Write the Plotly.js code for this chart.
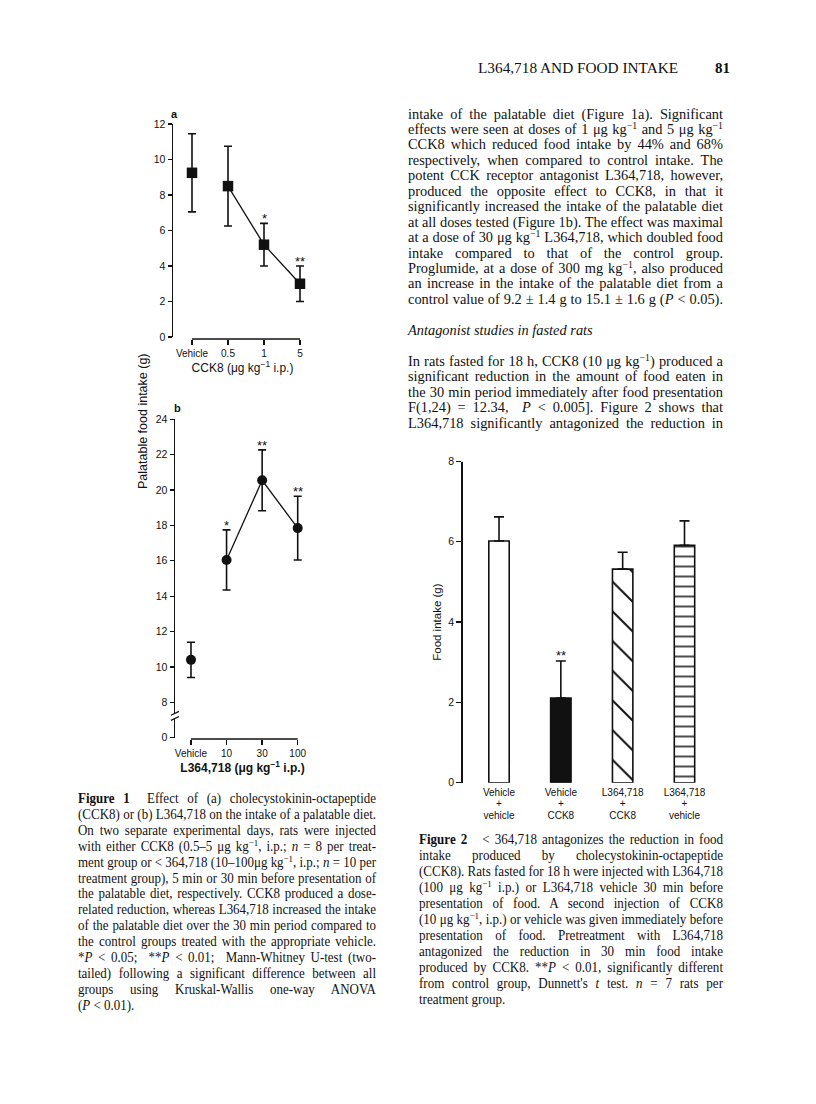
<!DOCTYPE html>
<html>
<head>
<meta charset="utf-8">
<script src="https://cdn.plot.ly/plotly-3.0.1.min.js"></script>
<style>
  html, body { margin: 0; padding: 0; background: #fff; }
  #page { position: relative; width: 816px; height: 1104px; overflow: hidden; background: #fff; }
  #plot { position: absolute; left: 0; top: 0; width: 816px; height: 1104px; }
  .blk { position: absolute; font-family: "Liberation Serif", "Times New Roman", serif; color: #111; transform-origin: 0 0; }
  .ln { white-space: nowrap; text-align: justify; text-align-last: justify; overflow: visible; }
  .ln.left { text-align-last: left; }
  sup { font-size: 68%; line-height: 0; vertical-align: 0.5em; }
  #meas { position: absolute; left: -5000px; top: 0; white-space: nowrap; font-family: "Liberation Serif", "Times New Roman", serif; }
</style>
</head>
<body>
<div id="page">
  <div id="plot"></div>
</div>
<span id="meas"></span>
<script>
// ---------------- data ----------------
const cck8Doses  = ['Vehicle', '0.5', '1', '5'];
const cck8Intake = [9.25, 8.5, 5.2, 3.0];
const cck8Sem    = [2.2, 2.25, 1.2, 1.0];
const cck8Sig    = ['', '', '*', '**'];

const l364Doses  = ['Vehicle', '10', '30', '100'];
const l364Intake = [10.4, 16.05, 20.55, 17.85];
const l364Sem    = [1.0, 1.7, 1.72, 1.8];
const l364Sig    = ['', '*', '**', '**'];

const fig2Pre    = ['Vehicle', 'Vehicle', 'L364,718', 'L364,718'];
const fig2Post   = ['vehicle', 'CCK8', 'CCK8', 'vehicle'];
const fig2Intake = [6.02, 2.11, 5.32, 5.91];
const fig2Sem    = [0.6, 0.92, 0.42, 0.61];
const fig2Sig    = ['', '**', '', ''];
const fig2Fill   = ['#ffffff', '#111111', '#ffffff', '#ffffff'];
const fig2Hatch  = ['', '', '\\', '-'];

const yTicksA  = [0, 2, 4, 6, 8, 10, 12];
const yTicksB  = [8, 10, 12, 14, 16, 18, 20, 22, 24];
const yTicksF2 = [0, 2, 4, 6, 8];

// ---------------- page geometry helpers ----------------
const W = 816, H = 1104;
const px = v => v / W;
const py = v => 1 - v / H;
const INK = '#111';
const SANS = '"Liberation Sans", Arial, Helvetica, sans-serif';

// broken-axis stand-in value for the "0" tick of panel b
const bBreakBase = 6;

const fig2Groups = fig2Pre.map((p, i) => p + ' + ' + fig2Post[i]);
const lbl = s => '<span style="font-size:10px">' + s + '</span>';
const fig2TickText = fig2Pre.map((p, i) => lbl(p) + '<br>' + lbl('+') + '<br>' + lbl(fig2Post[i]));

// ---------------- traces ----------------
const errA = arr => ({ type: 'data', array: arr, visible: true, color: INK, thickness: 1.6, width: 4 });

const traces = [
  { x: cck8Doses.slice(0, 1), y: cck8Intake.slice(0, 1), xaxis: 'x', yaxis: 'y',
    type: 'scatter', mode: 'markers', cliponaxis: false,
    marker: { symbol: 'square', size: 10.5, color: INK },
    error_y: errA(cck8Sem.slice(0, 1)) },
  { x: cck8Doses.slice(1), y: cck8Intake.slice(1), xaxis: 'x', yaxis: 'y',
    type: 'scatter', mode: 'lines+markers', cliponaxis: false,
    line: { color: INK, width: 1.3 },
    marker: { symbol: 'square', size: 10.5, color: INK },
    error_y: errA(cck8Sem.slice(1)) },
  { x: l364Doses.slice(0, 1), y: l364Intake.slice(0, 1), xaxis: 'x2', yaxis: 'y2',
    type: 'scatter', mode: 'markers', cliponaxis: false,
    marker: { symbol: 'circle', size: 10, color: INK },
    error_y: errA(l364Sem.slice(0, 1)) },
  { x: l364Doses.slice(1), y: l364Intake.slice(1), xaxis: 'x2', yaxis: 'y2',
    type: 'scatter', mode: 'lines+markers', cliponaxis: false,
    line: { color: INK, width: 1.3 },
    marker: { symbol: 'circle', size: 10, color: INK },
    error_y: errA(l364Sem.slice(1)) }
];

// figure 2: one bar trace per group so each keeps its own fill / hatching
fig2Groups.forEach((g, i) => {
  const marker = { color: fig2Fill[i], line: { color: INK, width: 1.6 } };
  if (fig2Hatch[i]) {
    marker.pattern = { shape: fig2Hatch[i], fgcolor: INK, bgcolor: '#ffffff',
      size: fig2Hatch[i] === '-' ? 10 : 21, solidity: fig2Hatch[i] === '-' ? 0.15 : 0.095 };
  }
  traces.push({
    x: [g], y: [fig2Intake[i]], xaxis: 'x3', yaxis: 'y3', type: 'bar', width: 0.33,
    marker: marker,
    error_y: { type: 'data', symmetric: false, array: [fig2Sem[i]], arrayminus: [0], color: INK, thickness: 1.6, width: 5 }
  });
});

// ---------------- annotations ----------------
function sigAnn(vals, errs, sig, xr, yr, shift) {
  const out = [];
  vals.forEach((v, i) => {
    if (!sig[i]) return;
    out.push({ x: i, y: v + errs[i], xref: xr, yref: yr, text: sig[i], showarrow: false,
      yanchor: 'bottom', xanchor: 'center', yshift: shift, font: { size: 13, color: INK, family: SANS } });
  });
  return out;
}

const annotations = [
  ...sigAnn(cck8Intake, cck8Sem, cck8Sig, 'x', 'y', -5),
  ...sigAnn(l364Intake, l364Sem, l364Sig, 'x2', 'y2', -5),
  ...sigAnn(fig2Intake, fig2Sem, fig2Sig, 'x3', 'y3', -4),
  { text: '<b>a</b>', xref: 'paper', yref: 'paper', x: px(174), y: py(114), xanchor: 'center', yanchor: 'middle',
    showarrow: false, font: { size: 11, color: INK, family: SANS } },
  { text: '<b>b</b>', xref: 'paper', yref: 'paper', x: px(177), y: py(408), xanchor: 'center', yanchor: 'middle',
    showarrow: false, font: { size: 11, color: INK, family: SANS } },
  { text: 'Palatable food intake (g)', xref: 'paper', yref: 'paper', x: px(143), y: py(421),
    xanchor: 'center', yanchor: 'middle',
    textangle: -90, showarrow: false, font: { size: 12.5, color: INK, family: SANS } }
];

// ---------------- shapes (axis lines / break) ----------------
const shapes = [
  { type: 'line', xref: 'x', yref: 'paper', x0: 0, x1: cck8Doses.length - 1, y0: py(339), y1: py(339),
    line: { color: INK, width: 1.4 } },
  { type: 'line', xref: 'x2', yref: 'paper', x0: 0, x1: l364Doses.length - 1, y0: py(739), y1: py(739),
    line: { color: INK, width: 1.4 } },
  { type: 'rect', xref: 'paper', xsizemode: 'pixel', xanchor: px(175), x0: -3, x1: 3,
    yref: 'y2', y0: 7.1, y1: 7.38, fillcolor: '#ffffff', line: { width: 0 }, layer: 'above' },
  { type: 'line', xref: 'paper', xsizemode: 'pixel', xanchor: px(175), x0: -4, x1: 4,
    yref: 'y2', y0: 6.98, y1: 7.2, line: { color: INK, width: 1.3 }, layer: 'above' },
  { type: 'line', xref: 'paper', xsizemode: 'pixel', xanchor: px(175), x0: -4, x1: 4,
    yref: 'y2', y0: 7.27, y1: 7.49, line: { color: INK, width: 1.3 }, layer: 'above' }
];

// ---------------- axes ----------------
const baseAx = { showgrid: false, zeroline: false, fixedrange: true, color: INK, tickcolor: INK,
  linecolor: INK, tickfont: { size: 10.5, color: INK, family: SANS } };

const layout = {
  width: W, height: H, margin: { l: 0, r: 0, t: 0, b: 0 },
  paper_bgcolor: 'rgba(0,0,0,0)', plot_bgcolor: 'rgba(0,0,0,0)',
  showlegend: false, barmode: 'overlay', font: { family: SANS, color: INK, size: 10.5 },
  xaxis: Object.assign({}, baseAx, {
    domain: [px(173), px(312)], type: 'category', categoryorder: 'array', categoryarray: cck8Doses,
    range: [-(192 - 173) / 36, 3 + (312 - 300) / 36], anchor: 'free', position: py(339),
    showline: false, ticks: 'outside', ticklen: 5, tickwidth: 1.3, tickfont: { size: 10, color: INK, family: SANS },
    title: { text: 'CCK8 (μg kg<sup>−1</sup> i.p.)', font: { size: 12, color: INK, family: SANS }, standoff: 2 }
  }),
  yaxis: Object.assign({}, baseAx, {
    domain: [py(337), py(124)], range: [0, 12], tickvals: yTicksA, anchor: 'x',
    showline: true, linewidth: 1.5, ticks: 'outside', ticklen: 4, tickwidth: 1.3
  }),
  xaxis2: Object.assign({}, baseAx, {
    domain: [px(175), px(310)], type: 'category', categoryorder: 'array', categoryarray: l364Doses,
    range: [-(191 - 175) / 35.6, 3 + (310 - 297.7) / 35.6], anchor: 'free', position: py(739),
    showline: false, ticks: 'outside', ticklen: 5, tickwidth: 1.3, tickfont: { size: 10, color: INK, family: SANS },
    title: { text: '<b>L364,718 (μg kg<sup>−1</sup> i.p.)</b>', font: { size: 12, color: INK, family: SANS }, standoff: 2 }
  }),
  yaxis2: Object.assign({}, baseAx, {
    domain: [py(737.7), py(419.3)], range: [bBreakBase, 24],
    tickvals: [bBreakBase].concat(yTicksB), ticktext: ['0'].concat(yTicksB.map(String)), anchor: 'x2',
    showline: true, linewidth: 1.5, ticks: 'outside', ticklen: 4, tickwidth: 1.3
  }),
  xaxis3: Object.assign({}, baseAx, {
    domain: [px(462.7), px(716)], type: 'category', categoryorder: 'array', categoryarray: fig2Groups,
    range: [-(499 - 462.7) / 61.8, 3 + (716 - 684.5) / 61.8], anchor: 'y3',
    showline: false, ticks: '', tickvals: fig2Groups, ticktext: fig2TickText, ticklabelstandoff: 4,
    tickfont: { size: 8.6, color: INK, family: SANS }
  }),
  yaxis3: Object.assign({}, baseAx, {
    domain: [py(782.7), py(461.5)], range: [0, 8], tickvals: yTicksF2, anchor: 'x3',
    showline: true, linewidth: 1.5, ticks: 'outside', ticklen: 5, tickwidth: 1.3,
    title: { text: 'Food intake (g)', font: { size: 11.5, color: INK, family: SANS }, standoff: 4 }
  }),
  shapes: shapes,
  annotations: annotations
};

Plotly.newPlot('plot', traces, layout, { staticPlot: true, displayModeBar: false });

// ---------------- page text ----------------
const mu = 'μg kg<sup>−1</sup>';
const body1 = [
  'intake of the palatable diet (Figure 1a). Significant',
  'effects were seen at doses of 1 ' + mu + ' and 5 ' + mu,
  'CCK8 which reduced food intake by 44% and 68%',
  'respectively, when compared to control intake. The',
  'potent CCK receptor antagonist L364,718, however,',
  'produced the opposite effect to CCK8, in that it',
  'significantly increased the intake of the palatable diet',
  'at all doses tested (Figure 1b). The effect was maximal',
  'at a dose of 30 ' + mu + ' L364,718, which doubled food',
  'intake compared to that of the control group.',
  'Proglumide, at a dose of 300 mg kg<sup>−1</sup>, also produced',
  'an increase in the intake of the palatable diet from a',
  'control value of 9.2 ± 1.4 g to 15.1 ± 1.6 g (<i>P</i> &lt; 0.05).'
];
const heading = ['<i>Antagonist studies in fasted rats</i>'];
const body2 = [
  'In rats fasted for 18 h, CCK8 (10 ' + mu + ') produced a',
  'significant reduction in the amount of food eaten in',
  'the 30 min period immediately after food presentation',
  'F(1,24) = 12.34, &nbsp;<i>P</i> &lt; 0.005]. Figure 2 shows that',
  'L364,718 significantly antagonized the reduction in'
];
const cap1 = [
  '<b>Figure 1</b> &nbsp;Effect of (a) cholecystokinin-octapeptide',
  '(CCK8) or (b) L364,718 on the intake of a palatable diet.',
  'On two separate experimental days, rats were injected',
  'with either CCK8 (0.5–5 ' + mu + ', i.p.; <i>n</i> = 8 per treat-',
  'ment group or &lt; 364,718 (10–100μg kg<sup>−1</sup>, i.p.; <i>n</i> = 10 per',
  'treatment group), 5 min or 30 min before presentation of',
  'the palatable diet, respectively. CCK8 produced a dose-',
  'related reduction, whereas L364,718 increased the intake',
  'of the palatable diet over the 30 min period compared to',
  'the control groups treated with the appropriate vehicle.',
  '*<i>P</i> &lt; 0.05; &nbsp;**<i>P</i> &lt; 0.01; &nbsp;Mann-Whitney U-test (two-',
  'tailed) following a significant difference between all',
  'groups using Kruskal-Wallis one-way ANOVA',
  '(<i>P</i> &lt; 0.01).'
];
const cap2 = [
  '<b>Figure 2</b> &nbsp; &lt; 364,718 antagonizes the reduction in food',
  'intake produced by cholecystokinin-octapeptide',
  '(CCK8). Rats fasted for 18 h were injected with L364,718',
  '(100 ' + mu + ' i.p.) or L364,718 vehicle 30 min before',
  'presentation of food. A second injection of CCK8',
  '(10 ' + mu + ', i.p.) or vehicle was given immediately before',
  'presentation of food. Pretreatment with L364,718',
  'antagonized the reduction in 30 min food intake',
  'produced by CCK8. **<i>P</i> &lt; 0.01, significantly different',
  'from control group, Dunnett\'s <i>t</i> test. <i>n</i> = 7 rats per',
  'treatment group.'
];

const blocks = [
  { left: 408, center: 114.3, width: 315, size: 14.4, lh: 15.45, lines: body1, justLast: true },
  { left: 408, center: 330.7, width: 315, size: 14.4, lh: 15.45, lines: heading, justLast: false },
  { left: 408, center: 361.7, width: 315, size: 14.4, lh: 15.45, lines: body2, justLast: true },
  { left: 78, center: 799, width: 298, size: 13.6, lh: 15.9, lines: cap1, justLast: false },
  { left: 419, center: 840, width: 304, size: 13.6, lh: 16, lines: cap2, justLast: false }
];

const page = document.getElementById('page');
const meas = document.getElementById('meas');
blocks.forEach(b => {
  meas.style.fontSize = b.size + 'px';
  let maxW = 0;
  b.lines.forEach(t => { meas.innerHTML = t; maxW = Math.max(maxW, meas.getBoundingClientRect().width); });
  const scale = maxW > b.width ? b.width / maxW : 1;
  const d = document.createElement('div');
  d.className = 'blk';
  d.style.left = b.left + 'px';
  d.style.top = (b.center - b.lh / 2) + 'px';
  d.style.width = (b.width / scale) + 'px';
  d.style.fontSize = b.size + 'px';
  d.style.lineHeight = b.lh + 'px';
  if (scale < 1) d.style.transform = 'scaleX(' + scale + ')';
  b.lines.forEach((t, i) => {
    const l = document.createElement('div');
    const isLast = i === b.lines.length - 1;
    l.className = 'ln' + ((isLast && !b.justLast) ? ' left' : '');
    l.style.height = b.lh + 'px';
    l.innerHTML = t;
    d.appendChild(l);
  });
  page.appendChild(d);
});
meas.remove();

const hdr = document.createElement('div');
hdr.className = 'blk';
hdr.style.left = '478px'; hdr.style.top = '59px'; hdr.style.fontSize = '15.3px'; hdr.style.lineHeight = '18px';
hdr.textContent = 'L364,718 AND FOOD INTAKE';
page.appendChild(hdr);
const pg = document.createElement('div');
pg.className = 'blk';
pg.style.left = '715px'; pg.style.top = '59px'; pg.style.fontSize = '15px'; pg.style.lineHeight = '18px';
pg.style.fontWeight = 'bold';
pg.textContent = '81';
page.appendChild(pg);
</script>
</body>
</html>
